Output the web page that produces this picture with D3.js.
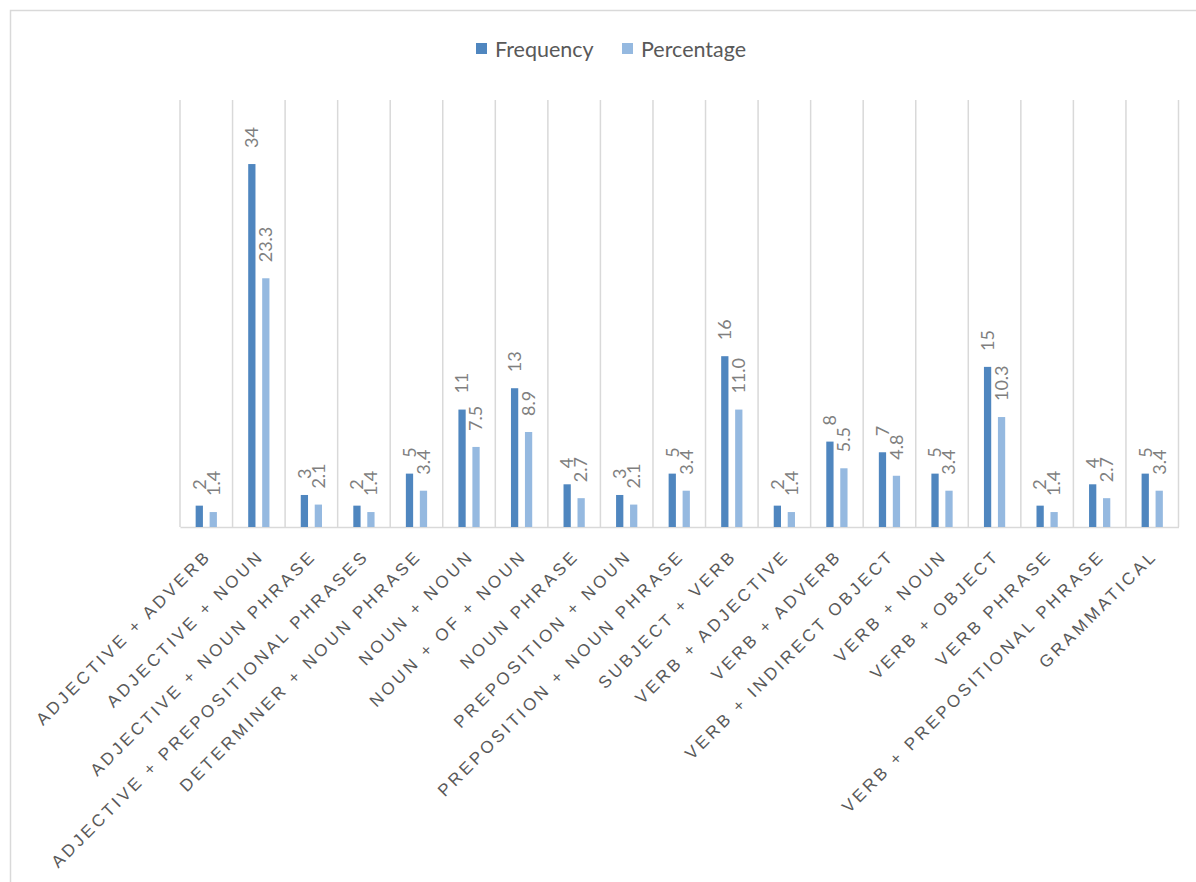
<!DOCTYPE html>
<html>
<head>
<meta charset="utf-8">
<script src="https://cdn.jsdelivr.net/npm/d3@7"></script>
<style>
  body { margin: 0; background: #fff; }
  svg { display: block; font-family: Lato, "Open Sans", sans-serif; }
</style>
</head>
<body>
<svg id="chart" width="1196" height="882"></svg>
<script>
const categories = [
  "Adjective + Adverb", "Adjective + Noun", "Adjective + Noun Phrase",
  "Adjective + Prepositional Phrases", "Determiner + Noun Phrase", "Noun + Noun",
  "Noun + of + Noun", "Noun Phrase", "Preposition + Noun", "Preposition + Noun Phrase",
  "Subject + Verb", "Verb + Adjective", "Verb + Adverb", "Verb + Indirect Object",
  "Verb + Noun", "Verb + Object", "Verb Phrase", "Verb + Prepositional Phrase",
  "Grammatical"
];
const frequency = [2, 34, 3, 2, 5, 11, 13, 4, 3, 5, 16, 2, 8, 7, 5, 15, 2, 4, 5];
const percentage = [1.4, 23.3, 2.1, 1.4, 3.4, 7.5, 8.9, 2.7, 2.1, 3.4, 11.0, 1.4, 5.5, 4.8, 3.4, 10.3, 1.4, 2.7, 3.4];
const seriesNames = ["Frequency", "Percentage"];
const colors = ["#4f86bf", "#95b9e0"];

const svg = d3.select("#chart");

// outer chart border
svg.append("rect")
  .attr("x", 10.5).attr("y", 10.5)
  .attr("width", 1190).attr("height", 880)
  .attr("fill", "none").attr("stroke", "#d9d9d9").attr("stroke-width", 1.5);

const plotLeft = 180, plotRight = 1178.5, plotTop = 100, plotBottom = 527;

const x0 = d3.scaleBand().domain(categories).range([plotLeft, plotRight]).padding(0);
const x1 = d3.scaleBand().domain(seriesNames).range([0, x0.bandwidth()])
  .paddingInner(0.48).paddingOuter(1.12);
const y = d3.scaleLinear().domain([0, 40]).range([plotBottom, plotTop]);

// vertical gridlines between categories
const edges = categories.map(c => x0(c)).concat([plotRight]);
svg.append("g").selectAll("line")
  .data(edges)
  .enter().append("line")
  .attr("x1", d => d).attr("x2", d => d)
  .attr("y1", plotTop).attr("y2", plotBottom)
  .attr("stroke", "#d9d9d9").attr("stroke-width", 1.5);

// x axis
const xAxis = d3.axisBottom(x0).tickSize(0).tickFormat(d => d.toUpperCase());
const gx = svg.append("g")
  .attr("transform", `translate(0,${plotBottom})`)
  .call(xAxis);
gx.select(".domain").attr("stroke", "#d9d9d9").attr("stroke-width", 1.5);
gx.selectAll("text")
  .attr("fill", "#595959")
  .style("font-size", "17px")
  .style("letter-spacing", "3.2px")
  .attr("text-anchor", "end")
  .attr("dy", null)
  .attr("y", 0)
  .attr("transform", "translate(6,30) rotate(-45)");

const rows = categories.map((c, i) => ({ cat: c, vals: [frequency[i], percentage[i]] }));

const groups = svg.append("g").selectAll("g")
  .data(rows)
  .enter().append("g")
  .attr("transform", d => `translate(${x0(d.cat)},0)`);

groups.selectAll("rect")
  .data(d => d.vals.map((v, j) => ({ key: seriesNames[j], v: v, j: j })))
  .enter().append("rect")
  .attr("x", d => x1(d.key))
  .attr("y", d => y(d.v))
  .attr("width", x1.bandwidth())
  .attr("height", d => plotBottom - y(d.v))
  .attr("fill", d => colors[d.j]);

groups.selectAll("text")
  .data(d => d.vals.map((v, j) => ({ key: seriesNames[j], v: v, j: j })))
  .enter().append("text")
  .attr("transform", d => `translate(${x1(d.key) + x1.bandwidth() / 2},${y(d.v) - 16}) rotate(-90)`)
  .attr("dy", "0.35em")
  .attr("fill", "#7f7f7f")
  .style("font-size", "18px")
  .text(d => d.j === 0 ? d3.format("d")(d.v) : d3.format(".1f")(d.v));

// legend
const legend = svg.append("g");
const legendX = [476, 622];
seriesNames.forEach((name, i) => {
  legend.append("rect")
    .attr("x", legendX[i]).attr("y", 43)
    .attr("width", 11).attr("height", 11)
    .attr("fill", colors[i]);
  legend.append("text")
    .attr("x", legendX[i] + 19).attr("y", 49)
    .attr("dy", "0.35em")
    .attr("fill", "#595959")
    .style("font-size", "21.5px")
    .text(name);
});
</script>
</body>
</html>
